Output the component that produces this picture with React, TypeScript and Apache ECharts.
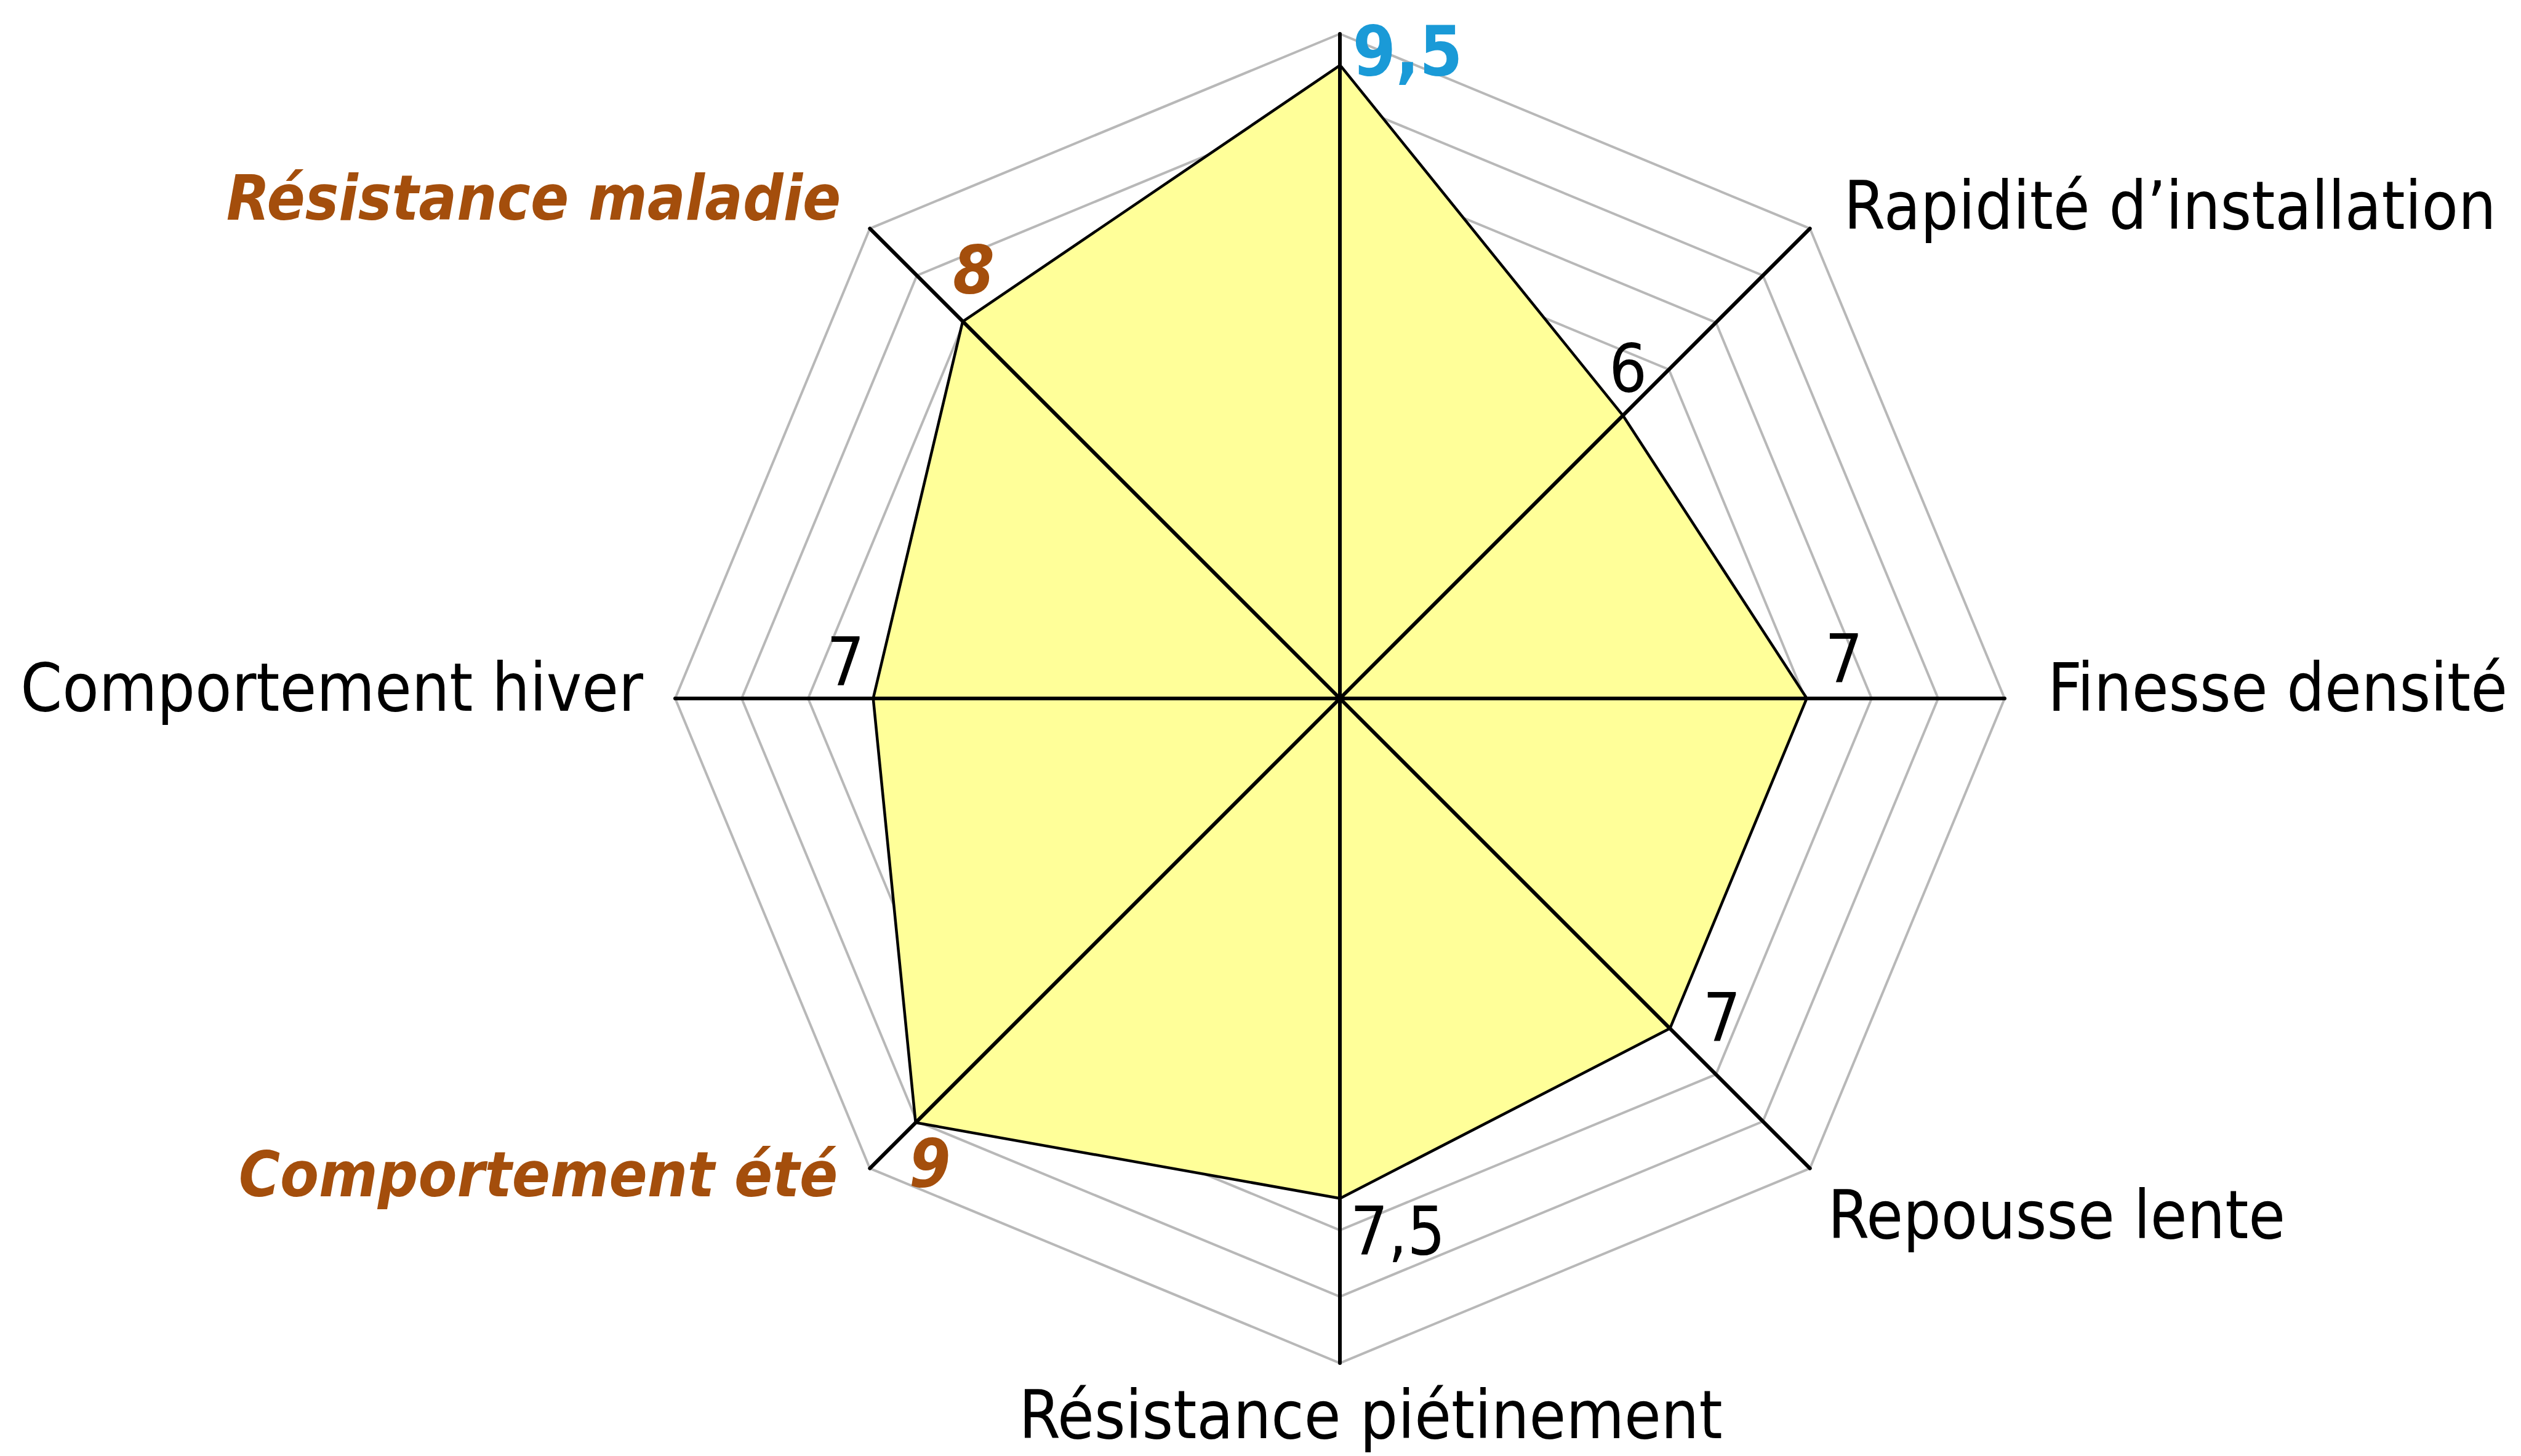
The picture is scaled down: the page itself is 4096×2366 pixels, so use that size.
import React, { useEffect, useRef } from 'react';
import * as echarts from 'echarts';

// ---- data ----
const indicatorNames: string[] = [
  '',
  'Résistance maladie',
  'Comportement hiver',
  'Comportement été',
  'Résistance piétinement',
  'Repousse lente',
  'Finesse densité',
  'Rapidité d’installation',
];
const scores: number[] = [9.5, 8, 7, 9, 7.5, 7, 7, 6];
const axisMin = 0;
const axisMax = 10;
const ringCount = 10;
// which indicators are emphasised (brown italic)
const emphasised: boolean[] = [false, true, false, true, false, false, false, false];

// ---- layout / style (not data) ----
const W = 4096;
const H = 2366;
const CX = 2177;
const CY = 1135;
const R = 1080;
const FONT = '"DejaVu Sans Condensed", "DejaVu Sans", sans-serif';
const BROWN = '#A44E0C';
const BLUE = '#1A9AD7';
// name label offsets from axis end (px) and alignment
const nameAlign: string[] = ['center', 'right', 'right', 'right', 'center', 'left', 'left', 'left'];
const nameOffset: number[][] = [
  [0, -60], [-47, -50], [-52, -18], [-52, 10], [50, 84], [29, 76], [70, -18], [55, -37],
];
// value label offsets from data point (px), centred
const valueOffset: number[][] = [
  [110, -26], [16, -86], [-47, -60], [21, 68], [94, 55], [86, -16], [63, -65], [10, -78],
];

export default function App() {
  const ref = useRef<HTMLDivElement>(null);
  useEffect(() => {
    document.body.style.margin = '0';
    const chart = echarts.init(ref.current as HTMLDivElement, null, { renderer: 'svg' });
    const indicator = indicatorNames.map((name) => ({ name, min: axisMin, max: axisMax }));
    const common = {
      center: [CX, CY],
      radius: R,
      startAngle: 90,
      shape: 'polygon',
      splitNumber: ringCount,
      indicator,
      axisName: { show: false },
      axisTick: { show: false },
      axisLabel: { show: false },
      splitArea: { show: false },
    };
    chart.setOption({
      animation: false,
      backgroundColor: '#ffffff',
      radar: [
        {
          ...common,
          z: 1,
          axisLine: { show: false },
          splitLine: { lineStyle: { color: '#b8b8b8', width: 4 } },
        },
        {
          ...common,
          z: 5,
          axisLine: { lineStyle: { color: '#000000', width: 6 } },
          splitLine: { show: false },
        },
      ],
      series: [
        {
          type: 'radar',
          radarIndex: 0,
          z: 2,
          symbol: 'none',
          lineStyle: { color: '#000000', width: 9 },
          areaStyle: { color: '#FFFF99', opacity: 1 },
          data: [{ name: 'Notes', value: scores }],
        },
      ],
    });

    const cs = (chart as any).getModel().getComponent('radar', 0).coordinateSystem;
    const toPoint = (v: number, i: number): number[] => {
      if (cs && cs.dataToPoint) return cs.dataToPoint(v, i);
      const a = ((90 + (360 / indicatorNames.length) * i) * Math.PI) / 180;
      const rr = (R * (v - axisMin)) / (axisMax - axisMin);
      return [CX + rr * Math.cos(a), CY - rr * Math.sin(a)];
    };

    const graphics: any[] = [];
    indicatorNames.forEach((name, i) => {
      const end = toPoint(axisMax, i);
      if (name) {
        graphics.push({
          type: 'text',
          x: end[0] + nameOffset[i][0],
          y: end[1] + nameOffset[i][1],
          z: 10,
          style: {
            text: name,
            fill: emphasised[i] ? BROWN : '#000000',
            fontFamily: FONT,
            fontSize: emphasised[i] ? 102 : 108,
            fontWeight: emphasised[i] ? 'bold' : 'normal',
            fontStyle: emphasised[i] ? 'italic' : 'normal',
            align: nameAlign[i],
            verticalAlign: 'middle',
          },
        });
      }
      const p = toPoint(scores[i], i);
      const isTop = i === 0;
      graphics.push({
        type: 'text',
        x: p[0] + valueOffset[i][0],
        y: p[1] + valueOffset[i][1],
        z: 10,
        style: {
          text: String(scores[i]).replace('.', ','),
          fill: isTop ? BLUE : emphasised[i] ? BROWN : '#000000',
          fontFamily: FONT,
          fontSize: isTop ? 112 : 108,
          fontWeight: isTop || emphasised[i] ? 'bold' : 'normal',
          fontStyle: emphasised[i] ? 'italic' : 'normal',
          align: 'center',
          verticalAlign: 'middle',
        },
      });
    });
    chart.setOption({ graphic: graphics });

    return () => chart.dispose();
  }, []);
  return <div ref={ref} style={{ position: 'absolute', left: 0, top: 0, width: W, height: H }} />;
}
